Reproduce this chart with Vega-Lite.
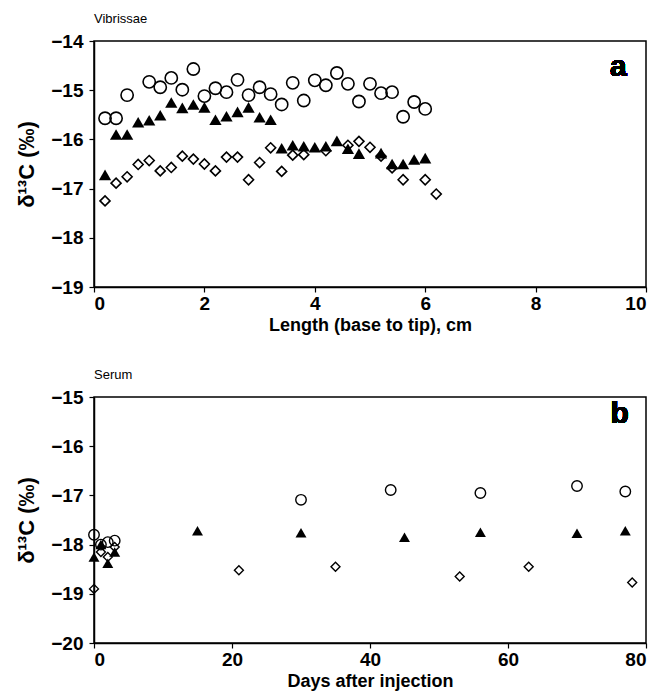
{
  "$schema": "https://vega.github.io/schema/vega-lite/v6.json",
  "padding": {"left": 15, "top": 12, "right": 0, "bottom": 2},
  "background": "white",
  "spacing": 33,
  "config": {
    "font": "Liberation Sans",
    "view": {"stroke": "black", "strokeWidth": 1.5},
    "axis": {"domainColor": "black", "domainWidth": 1.5, "tickColor": "black", "tickWidth": 1.2, "tickSize": 5, "labelColor": "black", "labelFont": "Liberation Sans", "labelFontWeight": "bold", "labelFontSize": 19, "titleFont": "Liberation Sans", "titleFontWeight": "bold", "titleFontSize": 18, "titleColor": "black", "grid": false, "labelPadding": 2},
    "axisY": {"labelPadding": 6, "titlePadding": 12, "titleFontSize": 22},
    "axisX": {"titlePadding": 3}
  },
  "datasets": {
    "vib": [
      {"length": 0.2, "d13C": -15.57, "series": "A"}, {"length": 0.4, "d13C": -15.57, "series": "A"}, {"length": 0.6, "d13C": -15.10, "series": "A"}, {"length": 1.0, "d13C": -14.83, "series": "A"}, {"length": 1.2, "d13C": -14.94, "series": "A"}, {"length": 1.4, "d13C": -14.75, "series": "A"}, {"length": 1.6, "d13C": -14.99, "series": "A"}, {"length": 1.8, "d13C": -14.57, "series": "A"}, {"length": 2.0, "d13C": -15.12, "series": "A"}, {"length": 2.2, "d13C": -14.96, "series": "A"}, {"length": 2.4, "d13C": -15.04, "series": "A"}, {"length": 2.6, "d13C": -14.79, "series": "A"}, {"length": 2.8, "d13C": -15.10, "series": "A"}, {"length": 3.0, "d13C": -14.94, "series": "A"}, {"length": 3.2, "d13C": -15.08, "series": "A"}, {"length": 3.4, "d13C": -15.29, "series": "A"}, {"length": 3.6, "d13C": -14.85, "series": "A"}, {"length": 3.8, "d13C": -15.21, "series": "A"}, {"length": 4.0, "d13C": -14.80, "series": "A"}, {"length": 4.2, "d13C": -14.90, "series": "A"}, {"length": 4.4, "d13C": -14.65, "series": "A"}, {"length": 4.6, "d13C": -14.87, "series": "A"}, {"length": 4.8, "d13C": -15.23, "series": "A"}, {"length": 5.0, "d13C": -14.87, "series": "A"}, {"length": 5.2, "d13C": -15.06, "series": "A"}, {"length": 5.4, "d13C": -15.04, "series": "A"}, {"length": 5.6, "d13C": -15.54, "series": "A"}, {"length": 5.8, "d13C": -15.24, "series": "A"}, {"length": 6.0, "d13C": -15.38, "series": "A"},
      {"length": 0.2, "d13C": -16.72, "series": "B"}, {"length": 0.4, "d13C": -15.90, "series": "B"}, {"length": 0.6, "d13C": -15.90, "series": "B"}, {"length": 0.8, "d13C": -15.65, "series": "B"}, {"length": 1.0, "d13C": -15.61, "series": "B"}, {"length": 1.2, "d13C": -15.51, "series": "B"}, {"length": 1.4, "d13C": -15.25, "series": "B"}, {"length": 1.6, "d13C": -15.36, "series": "B"}, {"length": 1.8, "d13C": -15.29, "series": "B"}, {"length": 2.0, "d13C": -15.35, "series": "B"}, {"length": 2.2, "d13C": -15.60, "series": "B"}, {"length": 2.4, "d13C": -15.53, "series": "B"}, {"length": 2.6, "d13C": -15.44, "series": "B"}, {"length": 2.8, "d13C": -15.35, "series": "B"}, {"length": 3.0, "d13C": -15.55, "series": "B"}, {"length": 3.2, "d13C": -15.60, "series": "B"}, {"length": 3.4, "d13C": -16.18, "series": "B"}, {"length": 3.6, "d13C": -16.12, "series": "B"}, {"length": 3.8, "d13C": -16.14, "series": "B"}, {"length": 4.0, "d13C": -16.16, "series": "B"}, {"length": 4.2, "d13C": -16.14, "series": "B"}, {"length": 4.4, "d13C": -16.03, "series": "B"}, {"length": 4.6, "d13C": -16.19, "series": "B"}, {"length": 4.8, "d13C": -16.29, "series": "B"}, {"length": 5.2, "d13C": -16.28, "series": "B"}, {"length": 5.4, "d13C": -16.50, "series": "B"}, {"length": 5.6, "d13C": -16.50, "series": "B"}, {"length": 5.8, "d13C": -16.41, "series": "B"}, {"length": 6.0, "d13C": -16.38, "series": "B"},
      {"length": 0.2, "d13C": -17.25, "series": "C"}, {"length": 0.4, "d13C": -16.89, "series": "C"}, {"length": 0.6, "d13C": -16.76, "series": "C"}, {"length": 0.8, "d13C": -16.51, "series": "C"}, {"length": 1.0, "d13C": -16.43, "series": "C"}, {"length": 1.2, "d13C": -16.64, "series": "C"}, {"length": 1.4, "d13C": -16.57, "series": "C"}, {"length": 1.6, "d13C": -16.34, "series": "C"}, {"length": 1.8, "d13C": -16.40, "series": "C"}, {"length": 2.0, "d13C": -16.50, "series": "C"}, {"length": 2.2, "d13C": -16.64, "series": "C"}, {"length": 2.4, "d13C": -16.36, "series": "C"}, {"length": 2.6, "d13C": -16.36, "series": "C"}, {"length": 2.8, "d13C": -16.82, "series": "C"}, {"length": 3.0, "d13C": -16.47, "series": "C"}, {"length": 3.2, "d13C": -16.17, "series": "C"}, {"length": 3.4, "d13C": -16.65, "series": "C"}, {"length": 3.6, "d13C": -16.32, "series": "C"}, {"length": 3.8, "d13C": -16.31, "series": "C"}, {"length": 4.2, "d13C": -16.23, "series": "C"}, {"length": 4.6, "d13C": -16.12, "series": "C"}, {"length": 4.8, "d13C": -16.04, "series": "C"}, {"length": 5.0, "d13C": -16.16, "series": "C"}, {"length": 5.2, "d13C": -16.34, "series": "C"}, {"length": 5.4, "d13C": -16.58, "series": "C"}, {"length": 5.6, "d13C": -16.82, "series": "C"}, {"length": 6.0, "d13C": -16.82, "series": "C"}, {"length": 6.2, "d13C": -17.11, "series": "C"}
    ],
    "serum": [
      {"day": 0, "d13C": -17.80, "series": "A"}, {"day": 1, "d13C": -18.00, "series": "A"}, {"day": 2, "d13C": -17.95, "series": "A"}, {"day": 3, "d13C": -17.92, "series": "A"}, {"day": 30, "d13C": -17.09, "series": "A"}, {"day": 43, "d13C": -16.89, "series": "A"}, {"day": 56, "d13C": -16.95, "series": "A"}, {"day": 70, "d13C": -16.81, "series": "A"}, {"day": 77, "d13C": -16.92, "series": "A"},
      {"day": 0, "d13C": -18.25, "series": "B"}, {"day": 1, "d13C": -18.00, "series": "B"}, {"day": 2, "d13C": -18.38, "series": "B"}, {"day": 3, "d13C": -18.15, "series": "B"}, {"day": 15, "d13C": -17.72, "series": "B"}, {"day": 30, "d13C": -17.76, "series": "B"}, {"day": 45, "d13C": -17.85, "series": "B"}, {"day": 56, "d13C": -17.75, "series": "B"}, {"day": 70, "d13C": -17.77, "series": "B"}, {"day": 77, "d13C": -17.72, "series": "B"},
      {"day": 0, "d13C": -18.90, "series": "C"}, {"day": 1, "d13C": -18.15, "series": "C"}, {"day": 2, "d13C": -18.25, "series": "C"}, {"day": 3, "d13C": -18.05, "series": "C"}, {"day": 21, "d13C": -18.52, "series": "C"}, {"day": 35, "d13C": -18.45, "series": "C"}, {"day": 53, "d13C": -18.65, "series": "C"}, {"day": 63, "d13C": -18.45, "series": "C"}, {"day": 78, "d13C": -18.77, "series": "C"}
    ]
  },
  "vconcat": [
    {
      "title": {"text": "Vibrissae", "anchor": "start", "frame": "group", "fontSize": 13, "fontWeight": "normal", "font": "Liberation Sans", "color": "black", "offset": 6},
      "width": 552,
      "height": 246,
      "data": {"name": "vib"},
      "encoding": {
        "x": {"field": "length", "type": "quantitative", "scale": {"domain": [0, 10], "nice": false, "zero": false}, "axis": {"values": [0, 2, 4, 6, 8, 10], "title": "Length (base to tip), cm"}},
        "y": {"field": "d13C", "type": "quantitative", "scale": {"domain": [-19, -14], "nice": false, "zero": false}, "axis": {"values": [-19, -18, -17, -16, -15, -14], "title": "δ¹³C (‰)"}}
      },
      "layer": [
        {"transform": [{"filter": "datum.series === 'A'"}], "mark": {"type": "point", "shape": "circle", "filled": false, "stroke": "black", "strokeWidth": 1.6, "size": 150, "opacity": 1}},
        {"transform": [{"filter": "datum.series === 'C'"}], "mark": {"type": "point", "shape": "diamond", "filled": false, "stroke": "black", "strokeWidth": 1.6, "size": 100, "opacity": 1}},
        {"transform": [{"filter": "datum.series === 'B'"}], "mark": {"type": "point", "shape": "triangle-up", "filled": true, "fill": "black", "size": 150, "opacity": 1}},
        {"mark": {"type": "text", "text": "a", "fontSize": 30, "fontWeight": "bold", "font": "Liberation Sans", "color": "black", "align": "center", "baseline": "middle"}, "encoding": {"x": {"datum": 9.5}, "y": {"datum": -14.53}}}
      ]
    },
    {
      "title": {"text": "Serum", "anchor": "start", "frame": "group", "fontSize": 13, "fontWeight": "normal", "font": "Liberation Sans", "color": "black", "offset": 6},
      "width": 552,
      "height": 246,
      "data": {"name": "serum"},
      "encoding": {
        "x": {"field": "day", "type": "quantitative", "scale": {"domain": [0, 80], "nice": false, "zero": false}, "axis": {"values": [0, 20, 40, 60, 80], "title": "Days after injection"}},
        "y": {"field": "d13C", "type": "quantitative", "scale": {"domain": [-20, -15], "nice": false, "zero": false}, "axis": {"values": [-20, -19, -18, -17, -16, -15], "title": "δ¹³C (‰)"}}
      },
      "layer": [
        {"transform": [{"filter": "datum.series === 'A'"}], "mark": {"type": "point", "shape": "circle", "filled": false, "stroke": "black", "strokeWidth": 1.4, "size": 110, "opacity": 1}},
        {"transform": [{"filter": "datum.series === 'C'"}], "mark": {"type": "point", "shape": "diamond", "filled": false, "stroke": "black", "strokeWidth": 1.4, "size": 80, "opacity": 1}},
        {"transform": [{"filter": "datum.series === 'B'"}], "mark": {"type": "point", "shape": "triangle-up", "filled": true, "fill": "black", "size": 120, "opacity": 1}},
        {"mark": {"type": "text", "text": "b", "fontSize": 30, "fontWeight": "bold", "font": "Liberation Sans", "color": "black", "align": "center", "baseline": "middle"}, "encoding": {"x": {"datum": 76.2}, "y": {"datum": -15.35}}}
      ]
    }
  ]
}
